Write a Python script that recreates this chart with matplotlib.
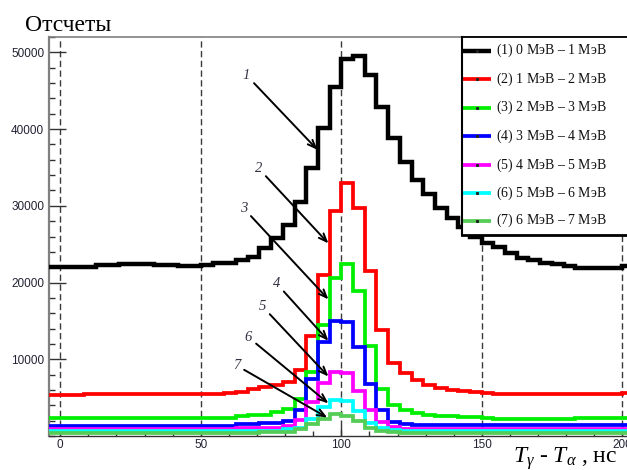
import numpy as np
import matplotlib
matplotlib.use("Agg")
import matplotlib.pyplot as plt
from matplotlib.ticker import FixedLocator, MultipleLocator

plt.rcParams["mathtext.fontset"] = "custom"
plt.rcParams["mathtext.rm"] = "Liberation Serif"
plt.rcParams["mathtext.it"] = "Liberation Serif:italic"

# Histogram binning of T_gamma - T_alpha (ns)
t_min, t_max, n_bins = -4.0, 204.0, 50
edges = np.linspace(t_min, t_max, n_bins + 1)

# Counts per bin for each gamma-energy window
counts_0_1 = [22000, 22000, 22000, 22000, 22250, 22250, 22380, 22380, 22380, 22250,
              22250, 22100, 22100, 22250, 22500, 22550, 22900, 23300, 24550, 25800,
              27500, 30500, 34900, 40100, 45500, 49100, 49500, 47100, 42900, 38800,
              35700, 33300, 31600, 29700, 28400, 27300, 26000, 25200, 24600, 23800,
              23200, 22900, 22600, 22450, 22100, 21900, 21900, 21900, 21900, 22100]
counts_1_2 = [5300, 5300, 5300, 5420, 5420, 5420, 5420, 5420, 5420, 5420,
              5420, 5420, 5420, 5420, 5420, 5650, 5750, 6070, 6370, 6680,
              7020, 8550, 12990, 20950, 29300, 33000, 29700, 21500, 13770, 9500,
              8200, 7350, 6700, 6290, 6030, 5800, 5720, 5590, 5500, 5420,
              5420, 5420, 5420, 5420, 5420, 5420, 5420, 5420, 5420, 5550]
counts_2_3 = [2375, 2375, 2375, 2375, 2375, 2375, 2375, 2375, 2375, 2375,
              2375, 2375, 2375, 2375, 2375, 2375, 2590, 2800, 2800, 3110,
              3550, 4850, 8300, 14420, 20550, 22400, 18900, 11700, 6100, 4100,
              3330, 2980, 2770, 2650, 2550, 2450, 2450, 2300, 2240, 2240,
              2240, 2240, 2240, 2240, 2240, 2350, 2350, 2350, 2350, 2350]
counts_3_4 = [1350, 1350, 1350, 1350, 1350, 1350, 1350, 1350, 1350, 1350,
              1350, 1350, 1350, 1350, 1350, 1350, 1500, 1500, 1670, 1670,
              2020, 3450, 7400, 12240, 15050, 14800, 11550, 6770, 3400, 1870,
              1600, 1480, 1480, 1480, 1480, 1480, 1480, 1480, 1480, 1480,
              1480, 1480, 1480, 1480, 1480, 1480, 1480, 1480, 1480, 1480]
counts_4_5 = [850, 850, 850, 850, 850, 850, 850, 850, 850, 850,
              850, 850, 850, 850, 850, 850, 1000, 1000, 1070, 1070,
              1240, 2100, 4370, 6950, 8400, 8150, 5830, 3330, 1800, 1150,
              960, 940, 940, 940, 940, 940, 940, 940, 940, 940,
              940, 940, 940, 940, 940, 940, 940, 940, 940, 940]
counts_5_6 = [600, 600, 600, 600, 600, 600, 600, 600, 600, 600,
              600, 600, 600, 600, 600, 600, 680, 680, 680, 680,
              850, 1100, 2280, 3720, 4740, 4500, 3300, 1730, 1020, 750,
              640, 640, 640, 640, 640, 640, 640, 640, 640, 640,
              640, 640, 640, 640, 640, 640, 640, 640, 640, 640]
counts_6_7 = [380, 380, 380, 380, 380, 380, 380, 380, 380, 380,
              380, 380, 380, 380, 380, 380, 380, 380, 500, 500,
              500, 850, 1590, 2250, 2900, 2650, 1950, 1100, 650, 480,
              380, 380, 380, 380, 380, 380, 380, 380, 380, 380,
              380, 380, 380, 380, 380, 380, 380, 380, 380, 380]

series_counts = [counts_0_1, counts_1_2, counts_2_3, counts_3_4,
                 counts_4_5, counts_5_6, counts_6_7]
series_colors = ["#000000", "#ff0000", "#00ee00", "#0000ff",
                 "#ff00ff", "#00ffff", "#55cc55"]
series_widths = [3.2, 2.7, 2.7, 2.7, 2.7, 2.7, 2.7]
energy_labels = ["0 МэВ – 1 МэВ", "1 МэВ – 2 МэВ", "2 МэВ – 3 МэВ",
                 "3 МэВ – 4 МэВ", "4 МэВ – 5 МэВ", "5 МэВ – 6 МэВ",
                 "6 МэВ – 7 МэВ"]

# Pointer labels: (text position, arrow tip) in data coordinates
pointer_text = [(66.3, 47000), (70.5, 34900), (65.2, 29700), (76.9, 19900),
                (71.9, 16900), (67.0, 12850), (62.7, 9200)]
pointer_tip = [(91.5, 37300), (95.4, 25100), (95.4, 17800), (95.4, 12400),
               (95.4, 7750), (95.4, 4250), (95.0, 2400)]

x_major = [0, 50, 100, 150, 200]
y_major = [10000, 20000, 30000, 40000, 50000]

W, H = 627, 470
fig = plt.figure(figsize=(W / 100, H / 100), dpi=100)
fig.patch.set_facecolor("white")

ax_l, ax_t, ax_r, ax_b = 49, 37, 633.7, 436
ax = fig.add_axes([ax_l / W, 1 - ax_b / H, (ax_r - ax_l) / W, (ax_b - ax_t) / H])
ax.set_xlim(t_min, t_max)
ax.set_ylim(0, 52000)

for xv in x_major:
    ax.axvline(xv, color="#3a3a3a", lw=1.0, dashes=(4.5, 2.5), zorder=1)

for counts, col, lw in zip(series_counts, series_colors, series_widths):
    st = ax.stairs(counts, edges, color=col, lw=lw, baseline=None, zorder=3)
    st.set_joinstyle("miter")
    st.set_capstyle("butt")

for num, (tpos, tip) in enumerate(zip(pointer_text, pointer_tip), start=1):
    ax.annotate(str(num), xy=tip, xytext=tpos, textcoords="data",
                fontsize=10.5, family="Liberation Serif", style="italic",
                color="#333344", ha="center", va="center", zorder=6,
                arrowprops=dict(arrowstyle="->,head_length=0.55,head_width=0.22",
                                color="black", lw=1.4, shrinkA=1, shrinkB=0))

ax.xaxis.set_major_locator(FixedLocator(x_major))
ax.xaxis.set_minor_locator(MultipleLocator(10))
ax.yaxis.set_major_locator(FixedLocator(y_major))
ax.yaxis.set_minor_locator(MultipleLocator(2000))
ax.set_yticklabels([str(v) for v in y_major])
ax.set_xticklabels([str(v) for v in x_major])

ax.tick_params(axis="both", which="both", direction="in", top=False, right=False,
               color="#333333", width=1.0)
ax.tick_params(axis="y", which="major", length=12, pad=3.5, labelsize=8.5,
               labelcolor="#222233")
ax.tick_params(axis="y", which="minor", length=4.5)
ax.tick_params(axis="x", which="major", length=7, pad=2.5, labelsize=8.5,
               labelcolor="#222233")
ax.tick_params(axis="x", which="minor", length=3.5)
for lab in ax.get_xticklabels() + ax.get_yticklabels():
    lab.set_family("Liberation Sans")

ax.spines["left"].set_color("#808080")
ax.spines["left"].set_linewidth(1.6)
ax.spines["top"].set_color("#808080")
ax.spines["top"].set_linewidth(1.2)
ax.spines["bottom"].set_color("#333333")
ax.spines["bottom"].set_linewidth(1.0)
ax.spines["right"].set_visible(False)

# Legend panel, laid out in figure pixel units
lg_l, lg_t, lg_r, lg_b = 462, 37, 640, 235
lax = fig.add_axes([lg_l / W, 1 - lg_b / H, (lg_r - lg_l) / W, (lg_b - lg_t) / H])
lax.set_xlim(0, lg_r - lg_l)
lax.set_ylim(lg_b, lg_t)
lax.set_xticks([])
lax.set_yticks([])
lax.set_facecolor("white")
lax.set_zorder(10)
for side, lw in [("left", 1.5), ("bottom", 2.0), ("top", 1.3), ("right", 1.3)]:
    lax.spines[side].set_linewidth(lw)
    lax.spines[side].set_color("black")

row_y = [50.7, 79.3, 107.7, 136.0, 165.0, 193.3, 220.7]
for i, (col, lw, txt, yy) in enumerate(zip(series_colors, series_widths,
                                            energy_labels, row_y), start=1):
    lax.plot([0, 29], [yy, yy], color=col, lw=lw, solid_capstyle="butt")
    lax.plot([14.5], [yy], marker="s", ms=1.2, color="#222222")
    lax.text(33.7, yy, rf"($\mathit{{{i}}}$) {txt}", fontsize=10,
             family="Liberation Serif", color="#111111", va="center", ha="left")

fig.text(25 / W, 1 - 31 / H, "Отсчеты", fontsize=17, family="Liberation Serif",
         va="baseline", ha="left")
fig.text(513 / W, 1 - 463 / H, r"$T_{\gamma}$ - $T_{\alpha}$ , нс", fontsize=17,
         family="Liberation Serif", va="baseline", ha="left")

fig.savefig("out.png", dpi=100)
